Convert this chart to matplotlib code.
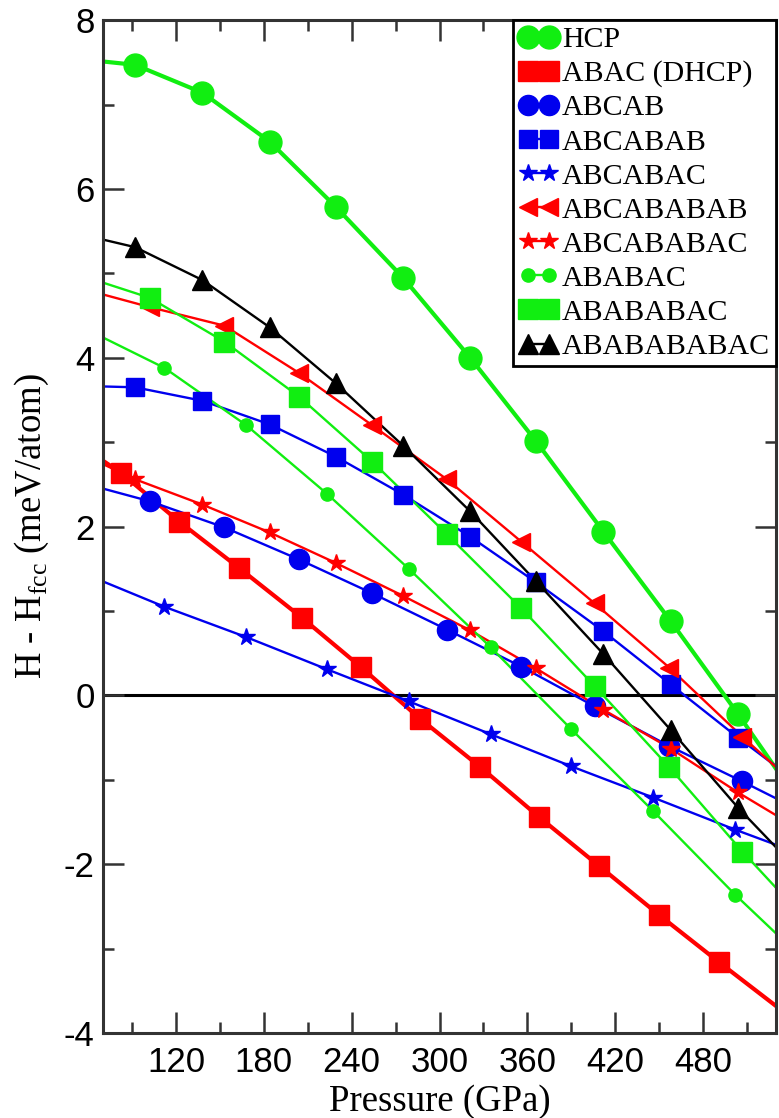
import matplotlib
matplotlib.use('Agg')
import matplotlib.pyplot as plt
from matplotlib.lines import Line2D
from matplotlib.ticker import MultipleLocator

plt.rcParams['font.family'] = ['Liberation Serif', 'DejaVu Serif']
plt.rcParams['axes.unicode_minus'] = False

# pressure grids (GPa) the stackings were computed on
p_a = [92, 138, 184, 229, 275, 321, 366, 412, 458, 504]
p_b = [102, 153, 204, 254, 305, 356, 406, 457, 507]
p_c = [112, 168, 223, 279, 335, 390, 446, 502]
p_d = [82, 122, 163, 206, 246, 287, 328, 368, 409, 450, 491]

# enthalpy relative to fcc (meV/atom)
hcp = [7.47, 7.14, 6.56, 5.79, 4.95, 4.00, 3.01, 1.94, 0.88, -0.22]
abac = [2.64, 2.06, 1.51, 0.92, 0.34, -0.28, -0.85, -1.44, -2.02, -2.60, -3.16]
abcab = [2.30, 1.99, 1.61, 1.21, 0.78, 0.34, -0.13, -0.60, -1.02]
abcabab = [3.65, 3.49, 3.21, 2.83, 2.38, 1.88, 1.34, 0.76, 0.13, -0.50]
abcabac = [1.05, 0.69, 0.31, -0.07, -0.46, -0.84, -1.21, -1.59]
abcababab = [4.60, 4.38, 3.82, 3.20, 2.56, 1.82, 1.09, 0.33, -0.49]
abcababac = [2.56, 2.26, 1.93, 1.57, 1.18, 0.77, 0.32, -0.17, -0.63, -1.15]
ababac = [3.88, 3.20, 2.39, 1.50, 0.57, -0.40, -1.37, -2.36]
abababac = [4.71, 4.19, 3.54, 2.77, 1.91, 1.03, 0.11, -0.85, -1.85]
ababababac = [5.31, 4.92, 4.36, 3.70, 2.96, 2.18, 1.35, 0.49, -0.41, -1.33]

# fitted curves run on to the plot edges: value at 70 GPa and at 530 GPa
p_lo, p_hi = 70, 530
ends = {
    'HCP': (7.51, -0.87),
    'ABAC (DHCP)': (2.78, -3.68),
    'ABCAB': (2.45, -1.22),
    'ABCABAB': (3.66, -0.84),
    'ABCABAC': (1.35, -1.77),
    'ABCABABAB': (4.75, -0.85),
    'ABCABABAC': (2.74, -1.42),
    'ABABAC': (4.24, -2.82),
    'ABABABAC': (4.89, -2.28),
    'ABABABABAC': (5.40, -1.80),
}

GREEN = '#11ee11'
RED = '#ff0000'
BLUE = '#0000ee'

series = [
    ('HCP', p_a, hcp, dict(color=GREEN, marker='o', ms=16.5, lw=3.0)),
    ('ABAC (DHCP)', p_d, abac, dict(color=RED, marker='s', ms=14.5, lw=3.0)),
    ('ABCAB', p_b, abcab, dict(color=BLUE, marker='o', ms=14.5, lw=1.7)),
    ('ABCABAB', p_a, abcabab, dict(color=BLUE, marker='s', ms=13.5, lw=1.7)),
    ('ABCABAC', p_c, abcabac, dict(color=BLUE, marker='*', ms=13, lw=1.7)),
    ('ABCABABAB', p_b, abcababab, dict(color=RED, marker='<', ms=13, lw=1.7)),
    ('ABCABABAC', p_a, abcababac, dict(color=RED, marker='*', ms=13, lw=1.7)),
    ('ABABAC', p_c, ababac, dict(color=GREEN, marker='o', ms=9.5, lw=1.7)),
    ('ABABABAC', p_b, abababac, dict(color=GREEN, marker='s', ms=14, lw=1.7)),
    ('ABABABABAC', p_a, ababababac, dict(color='black', marker='^', ms=14, lw=1.7)),
]

fig = plt.figure(figsize=(7.79, 11.18), dpi=100)
ax = fig.add_axes([0.1322, 0.076, 0.864, 0.906])

ax.axhline(0, color='black', lw=2.2, zorder=1)

handles = []
for name, p, e, st in series:
    lo, hi = ends[name]
    ax.plot([p_lo] + p + [p_hi], [lo] + e + [hi], color=st['color'],
            lw=st['lw'], zorder=2)
    ax.plot(p, e, ls='none', marker=st['marker'], ms=st['ms'],
            color=st['color'], mec=st['color'], zorder=3)
    handles.append(Line2D([], [], color=st['color'], lw=st['lw'],
                          marker=st['marker'], ms=st['ms'], mec=st['color'],
                          label=name))

ax.set_xlim(p_lo, p_hi)
ax.set_ylim(-4, 8)
ax.set_xticks(range(120, 481, 60))
ax.xaxis.set_minor_locator(MultipleLocator(30))
ax.set_yticks(range(-4, 9, 2))
ax.yaxis.set_minor_locator(MultipleLocator(1))

ax.tick_params(which='both', direction='in', top=True, right=True,
               width=1.8, color='#333333')
ax.tick_params(which='major', length=15)
ax.tick_params(which='minor', length=8)
ax.tick_params(axis='x', pad=9)
ax.tick_params(axis='y', pad=6)
for lab in ax.get_xticklabels() + ax.get_yticklabels():
    lab.set_fontfamily(['Liberation Sans', 'DejaVu Sans'])
    lab.set_fontsize(25)

for s in ax.spines.values():
    s.set_linewidth(2.2)
    s.set_color('#333333')

ax.set_xlabel('Pressure (GPa)', fontsize=26.5, labelpad=4)
ax.set_ylabel(r'H - H$_{\mathregular{fcc}}$ (meV/atom)', fontsize=26.5,
              labelpad=9)

leg = ax.legend(handles=handles, loc='upper right', borderaxespad=0,
                numpoints=2, fontsize=21.5, handlelength=1.3,
                handletextpad=0.15, labelspacing=0.24, borderpad=0.2,
                fancybox=False, framealpha=1, edgecolor='black')
leg.get_frame().set_linewidth(2.0)

fig.savefig('out.png', dpi=100)
